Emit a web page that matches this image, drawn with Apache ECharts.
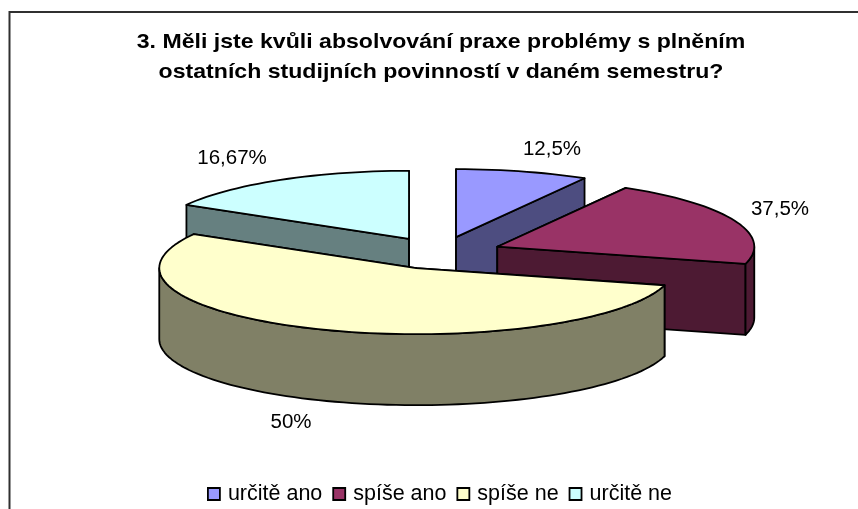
<!DOCTYPE html>
<html><head><meta charset="utf-8">
<style>html,body{margin:0;padding:0;background:#fff}#c{width:858px;height:509px}</style>
<script src="https://cdn.jsdelivr.net/npm/echarts@6/dist/echarts.min.js"></script>
</head><body><div id="c"></div>
<script>
const titleLines = ['3. Měli jste kvůli absolvování praxe problémy s plněním', 'ostatních studijních povinností v daném semestru?'];
const categories = ['určitě ano', 'spíše ano', 'spíše ne', 'určitě ne'];
const sweepDegrees = [30, 75, 195, 60];
const valueLabels = ['12,5%', '37,5%', '50%', '16,67%'];

const topColors = ['#9999FF', '#993366', '#FFFFCC', '#CCFFFF'];
const sideColors = ['#4D4D80', '#4D1A33', '#808066', '#668080'];
const labelCentres = [[552, 149], [780, 209], [291, 422], [232, 158]];
const paintOrder = [0, 3, 1, 2];
const pie = { cx: 440, cy: 253, a: 257, bBack: 68, bFront: 66, depth: 71, explode: 62 };

const starts = [];
sweepDegrees.reduce((s, v, i) => (starts[i] = s, s + v), 0);
const rad = d => d * Math.PI / 180;

function makeRender(i) {
  return function (params, api) {
    const sweep = api.value(0), start = api.value(1), end = start + sweep, mid = start + sweep / 2;
    const c = [pie.cx + pie.explode * Math.sin(rad(mid)),
               pie.cy - pie.explode * Math.cos(rad(mid)) * pie.bBack / pie.a];
    const rim = t => {
      const cos = Math.cos(rad(t));
      return [c[0] + pie.a * Math.sin(rad(t)), c[1] - (cos > 0 ? pie.bBack : pie.bFront) * cos];
    };
    const down = p => [p[0], p[1] + pie.depth];
    const arc = (s, e) => {
      const n = Math.max(2, Math.ceil((e - s) / 2)), out = [];
      for (let k = 0; k <= n; k++) out.push(rim(s + (e - s) * k / n));
      return out;
    };
    const stroke = { stroke: '#000', lineWidth: 1.8, lineJoin: 'round' };
    const poly = (pts, fill) => ({ type: 'polygon', shape: { points: pts }, style: Object.assign({ fill }, stroke) });
    const children = [];
    [start, end].forEach(t => {
      const r = rim(t);
      children.push(poly([c, r, down(r), down(c)], sideColors[i]));
    });
    const ws = Math.max(start, 90), we = Math.min(end, 270);
    if (we > ws) {
      const top = arc(ws, we);
      children.push(poly(top.concat(top.map(down).reverse()), sideColors[i]));
    }
    children.push(poly([c].concat(arc(start, end)), topColors[i]));
    children.push({
      type: 'text', x: labelCentres[i][0], y: labelCentres[i][1],
      style: { text: valueLabels[i], fill: '#000', font: '20.5px "Liberation Sans"', align: 'center', verticalAlign: 'middle' }
    });
    return { type: 'group', children };
  };
}

const chart = echarts.init(document.getElementById('c'), null, { renderer: 'canvas' });
chart.setOption({
  animation: false,
  backgroundColor: '#fff',
  legend: {
    data: categories, left: 207, top: 483, padding: 0, icon: 'rect', itemWidth: 12, itemHeight: 12, itemGap: 10,
    textStyle: { fontFamily: 'Liberation Sans', fontSize: 21.5, color: '#000', padding: [0, 0, 0, 3] },
    itemStyle: { borderColor: '#000', borderWidth: 1.8 }
  },
  graphic: [{
    type: 'polyline', silent: true, z: -1,
    shape: { points: [[9.5, 520], [9.5, 12], [870, 12]] },
    style: { stroke: '#303030', lineWidth: 2, fill: null }
  }].concat(titleLines.map((line, k) => ({
    type: 'text', x: 441, y: 42 + k * 30, scaleX: 1.10, originX: 0, silent: true,
    style: { text: line, fill: '#000', font: 'bold 21px "Liberation Sans"', align: 'center', verticalAlign: 'middle' }
  }))),
  series: paintOrder.map((i, n) => ({
    type: 'custom', name: categories[i], coordinateSystem: 'none', z: 2 + n,
    itemStyle: { color: topColors[i] },
    data: [[sweepDegrees[i], starts[i]]],
    renderItem: makeRender(i)
  }))
});
</script></body></html>
